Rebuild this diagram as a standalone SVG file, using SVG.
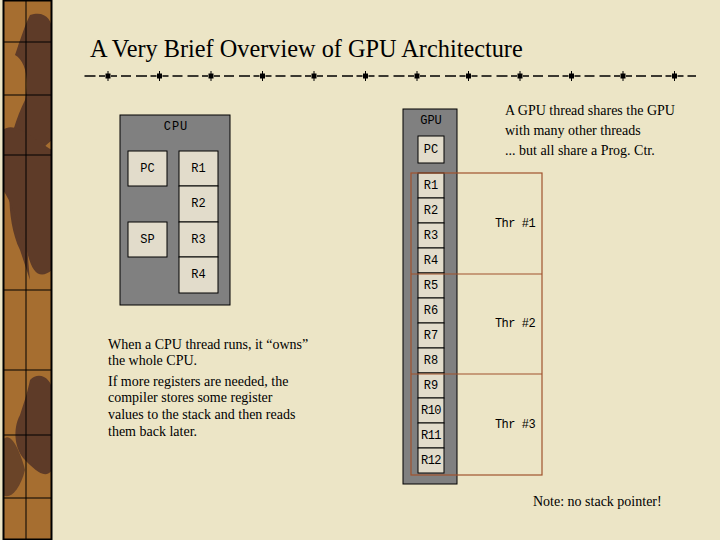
<svg xmlns="http://www.w3.org/2000/svg" width="720" height="540" viewBox="0 0 720 540">
<defs>
<style>
.reg{fill:#E2DCCB;stroke:#000;stroke-width:1}
.mono{font-family:"Liberation Mono","DejaVu Sans Mono",monospace;font-size:12px;fill:#000;text-anchor:middle;dominant-baseline:central}
.serif{font-family:"Liberation Serif","Times New Roman",serif;fill:#000}
.thr{fill:none;stroke:#A0522D;stroke-width:1.2}
</style>
<g id="sq"><rect x="-2.5" y="-2.5" width="5" height="5" fill="#000"/><line x1="0" y1="-5" x2="0" y2="5" stroke="#000" stroke-width="1"/></g>
</defs>
<rect width="720" height="540" fill="#ECE5C6"/>
<g id="border">
<rect x="3" y="0" width="49" height="540" fill="#A66E30"/>
<path d="M30 15 C45 10 52 20 52 30 L52 140 C40 150 30 160 28 200 C25 230 28 260 30 280 L20 250 C10 230 8 200 10 180 C5 150 15 120 25 100 C30 80 25 60 15 55 C20 40 25 25 30 15 Z" fill="#5E3B28"/>
<path d="M3 130 C15 120 35 140 52 150 L52 270 C40 280 30 275 25 240 C18 220 10 200 3 190 Z" fill="#5E3B28"/>
<path d="M30 380 C40 370 52 380 52 390 L52 470 C45 480 35 470 25 460 C15 450 12 430 20 415 C25 400 28 390 30 380 Z" fill="#5E3B28"/>
<path d="M3 440 C10 430 20 450 25 470 C20 490 10 500 3 495 Z" fill="#6A4428"/>
<rect x="3.5" y="0.5" width="48" height="539" fill="none" stroke="#000" stroke-width="2"/>
<line x1="26" y1="0" x2="26" y2="540" stroke="#000" stroke-width="1"/>
<g stroke="#000" stroke-width="1">
<line x1="3" y1="42" x2="52" y2="42"/>
<line x1="3" y1="95" x2="52" y2="95"/>
<line x1="3" y1="155" x2="52" y2="155"/>
<line x1="3" y1="290" x2="52" y2="290"/>
<line x1="3" y1="370" x2="52" y2="370"/>
<line x1="3" y1="435" x2="52" y2="435"/>
<line x1="3" y1="498" x2="52" y2="498"/>
</g>
</g>
<text class="serif" x="90" y="57" font-size="24.3">A Very Brief Overview of GPU Architecture</text>
<g id="rule">
<line x1="84" y1="76" x2="696" y2="76" stroke="#000" stroke-width="1.3" stroke-dasharray="6,4,10,5,11,3.5,6,6" stroke-dashoffset="24.5"/>
<use href="#sq" x="108" y="76"/><use href="#sq" x="159.5" y="76"/><use href="#sq" x="211" y="76"/><use href="#sq" x="262.5" y="76"/><use href="#sq" x="314" y="76"/><use href="#sq" x="365.5" y="76"/><use href="#sq" x="417" y="76"/><use href="#sq" x="468.5" y="76"/><use href="#sq" x="520" y="76"/><use href="#sq" x="571.5" y="76"/><use href="#sq" x="623" y="76"/><use href="#sq" x="674.5" y="76"/>
</g>
<g id="cpu">
<rect x="120" y="115" width="110" height="190" fill="#808080" stroke="#000" stroke-width="1"/>
<text class="mono" x="176" y="127" letter-spacing="1">CPU</text>
</g>
<g id="cpu-pc"><rect class="reg" x="128" y="151" width="39" height="35"/><text class="mono" x="147.5" y="168.5">PC</text></g>
<g id="cpu-sp"><rect class="reg" x="128" y="222" width="39" height="35"/><text class="mono" x="147.5" y="239.5">SP</text></g>
<g id="cpu-r1"><rect class="reg" x="179" y="151" width="39" height="35"/><text class="mono" x="198.5" y="168.5">R1</text></g>
<g id="cpu-r2"><rect class="reg" x="179" y="186" width="39" height="36"/><text class="mono" x="198.5" y="204">R2</text></g>
<g id="cpu-r3"><rect class="reg" x="179" y="222" width="39" height="35"/><text class="mono" x="198.5" y="239.5">R3</text></g>
<g id="cpu-r4"><rect class="reg" x="179" y="257" width="39" height="36"/><text class="mono" x="198.5" y="275">R4</text></g>
<g class="serif" font-size="14">
<text x="108" y="349">When a CPU thread runs, it “owns”</text>
<text x="108" y="365">the whole CPU.</text>
<text x="108" y="386">If more registers are needed, the</text>
<text x="108" y="402">compiler stores some register</text>
<text x="108" y="419">values to the stack and then reads</text>
<text x="108" y="436">them back later.</text>
</g>
<g id="gpu">
<rect x="403" y="109" width="54" height="375" fill="#808080" stroke="#000" stroke-width="1"/>
<text class="mono" x="431" y="121">GPU</text>
</g>
<g id="gpu-pc"><rect class="reg" x="418" y="136" width="26" height="27"/><text class="mono" x="431" y="149.5">PC</text></g>
<g id="gpu-regs">
<g id="gpu-r1"><rect class="reg" x="418" y="173" width="26" height="25"/><text class="mono" x="431" y="185.5">R1</text></g>
<g id="gpu-r2"><rect class="reg" x="418" y="198" width="26" height="25"/><text class="mono" x="431" y="210.5">R2</text></g>
<g id="gpu-r3"><rect class="reg" x="418" y="223" width="26" height="25"/><text class="mono" x="431" y="235.5">R3</text></g>
<g id="gpu-r4"><rect class="reg" x="418" y="248" width="26" height="25"/><text class="mono" x="431" y="260.5">R4</text></g>
<g id="gpu-r5"><rect class="reg" x="418" y="273" width="26" height="25"/><text class="mono" x="431" y="285.5">R5</text></g>
<g id="gpu-r6"><rect class="reg" x="418" y="298" width="26" height="25"/><text class="mono" x="431" y="310.5">R6</text></g>
<g id="gpu-r7"><rect class="reg" x="418" y="323" width="26" height="25"/><text class="mono" x="431" y="335.5">R7</text></g>
<g id="gpu-r8"><rect class="reg" x="418" y="348" width="26" height="25"/><text class="mono" x="431" y="360.5">R8</text></g>
<g id="gpu-r9"><rect class="reg" x="418" y="373" width="26" height="25"/><text class="mono" x="431" y="385.5">R9</text></g>
<g id="gpu-r10"><rect class="reg" x="418" y="398" width="26" height="25"/><text class="mono" x="431" y="410.5" letter-spacing="-0.5">R10</text></g>
<g id="gpu-r11"><rect class="reg" x="418" y="423" width="26" height="25"/><text class="mono" x="431" y="435.5" letter-spacing="-0.5">R11</text></g>
<g id="gpu-r12"><rect class="reg" x="418" y="448" width="26" height="25"/><text class="mono" x="431" y="460.5" letter-spacing="-0.5">R12</text></g>
</g>
<g id="threads">
<rect class="thr" x="411" y="173" width="131" height="302"/>
<line class="thr" x1="411" y1="274" x2="542" y2="274"/>
<line class="thr" x1="411" y1="374" x2="542" y2="374"/>
<text class="mono" x="515" y="224" letter-spacing="-0.5">Thr #1</text>
<text class="mono" x="515" y="324" letter-spacing="-0.5">Thr #2</text>
<text class="mono" x="515" y="425" letter-spacing="-0.5">Thr #3</text>
</g>
<g class="serif" font-size="14">
<text x="505" y="115">A GPU thread shares the GPU</text>
<text x="505" y="135">with many other threads</text>
<text x="505" y="155">... but all share a Prog. Ctr.</text>
<text x="533" y="506">Note: no stack pointer!</text>
</g>
</svg>
